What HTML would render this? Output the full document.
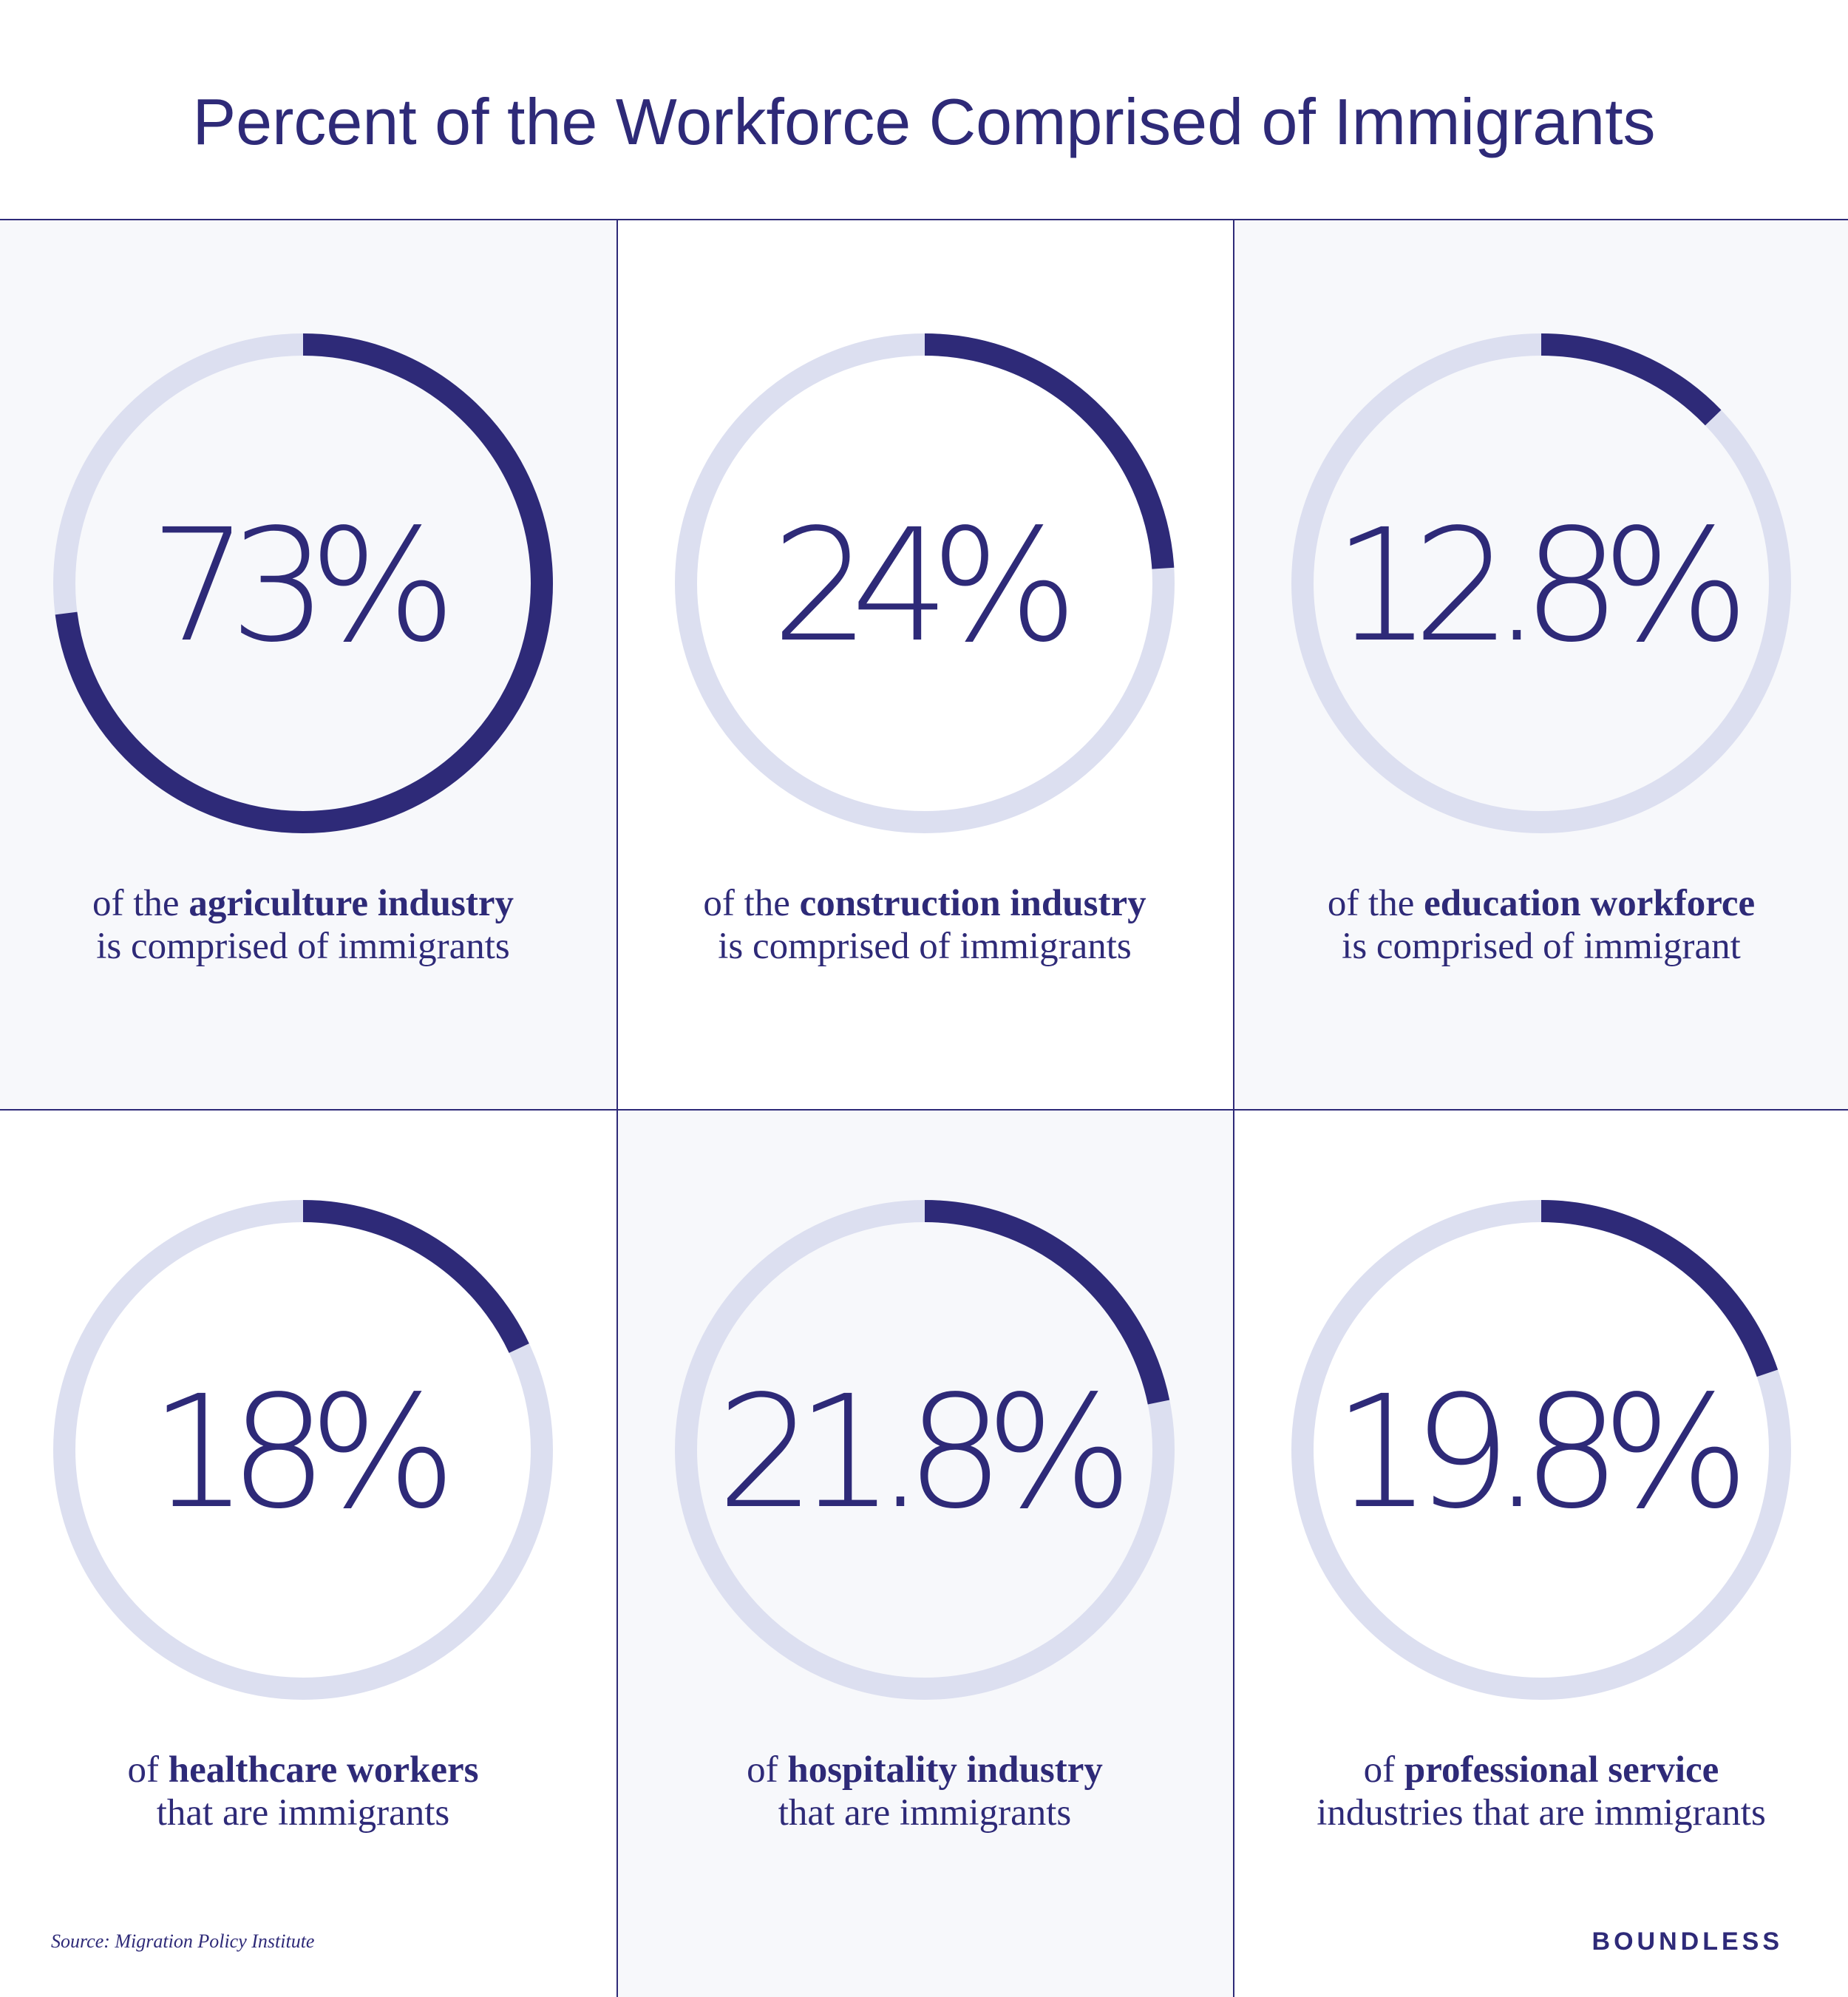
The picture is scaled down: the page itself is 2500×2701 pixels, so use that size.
<!DOCTYPE html>
<html><head><meta charset="utf-8"><style>
html,body{margin:0;padding:0;background:#fff}
svg{display:block}
.pct{font-family:"DejaVu Sans","Liberation Sans",sans-serif;font-weight:200;font-size:210px;fill:#2e2a78;letter-spacing:-26px}
.cap{font-family:"Liberation Serif",serif;font-size:51px;fill:#2e2a78}
</style></head><body>
<svg id="chart" width="2500" height="2701" viewBox="0 0 2500 2701" xmlns="http://www.w3.org/2000/svg">
<rect width="2500" height="2701" fill="#fff"/>
<text x="1250" y="195" text-anchor="middle" font-family="Liberation Sans, sans-serif" font-size="88" fill="#2e2a78">Percent of the Workforce Comprised of Immigrants</text>
<g id="cells"></g>
<line x1="0" y1="297" x2="2500" y2="297" stroke="#2e2a78" stroke-width="2"/>
<line x1="0" y1="1501" x2="2500" y2="1501" stroke="#2e2a78" stroke-width="2"/>
<line x1="835" y1="297" x2="835" y2="2701" stroke="#2e2a78" stroke-width="2"/>
<line x1="1669" y1="297" x2="1669" y2="2701" stroke="#2e2a78" stroke-width="2"/>
<text x="69" y="2634" font-family="Liberation Serif, serif" font-style="italic" font-size="26" fill="#2e2a78">Source: Migration Policy Institute</text>
<text x="2412" y="2637" text-anchor="end" font-family="Liberation Sans, sans-serif" font-weight="bold" font-size="34" letter-spacing="5" fill="#2e2a78">BOUNDLESS</text>
</svg>
<script>
const categories=["agriculture","construction","education","healthcare","hospitality","professional-services"];
const values=[73,24,12.8,18,21.8,19.8];
const labels=["73%","24%","12.8%","18%","21.8%","19.8%"];
const captionA=[["of the ","agriculture industry"],["of the ","construction industry"],["of the ","education workforce"],["of ","healthcare workers"],["of ","hospitality industry"],["of ","professional service"]];
const captionB=["is comprised of immigrants","is comprised of immigrants","is comprised of immigrant","that are immigrants","that are immigrants","industries that are immigrants"];
const NS="http://www.w3.org/2000/svg";
const g=document.getElementById('cells');
const colX=[0,835,1669],colW=[835,834,831],rowY=[297,1501],rowH=[1204,1200];
const cx=[410,1251,2085],cy=[789,1961],R=323;
function mk(t,a){const e=document.createElementNS(NS,t);for(const k in a)e.setAttribute(k,a[k]);return e;}
categories.forEach((c,i)=>{
 const col=i%3,row=Math.floor(i/3);
 const shaded=(i%2===0);
 const bg=mk('rect',{x:colX[col],y:rowY[row],width:colW[col],height:rowH[row],fill:shaded?'#f7f8fb':'#ffffff'});
 
 
 g.appendChild(bg);
 const x=cx[col],y=cy[row];
 const track=mk('circle',{cx:x,cy:y,r:R,fill:'none',stroke:'#dcdff0','stroke-width':30});
 
 
 g.appendChild(track);
 const ang=values[i]/100*2*Math.PI;
 const ex=x+R*Math.sin(ang),ey=y-R*Math.cos(ang);
 const large=values[i]>50?1:0;
 const arc=mk('path',{d:`M${x},${y-R} A${R},${R} 0 ${large} 1 ${ex},${ey}`,fill:'none',stroke:'#2e2a78','stroke-width':30});
 
 
 g.appendChild(arc);
 const t=mk('text',{x:x-13,y:y+76,'text-anchor':'middle','class':'pct'});
 t.textContent=labels[i];
 
 
 g.appendChild(t);
 const l1=mk('text',{x:x,y:y+449,'text-anchor':'middle','class':'cap'});
 
 
 const s1=mk('tspan',{});s1.textContent=captionA[i][0];
 const s2=mk('tspan',{'font-weight':'bold'});s2.textContent=captionA[i][1];
 l1.appendChild(s1);l1.appendChild(s2);g.appendChild(l1);
 const l2=mk('text',{x:x,y:y+507,'text-anchor':'middle','class':'cap'});
 l2.textContent=captionB[i];
 
 
 g.appendChild(l2);
});
</script>
</body></html>
